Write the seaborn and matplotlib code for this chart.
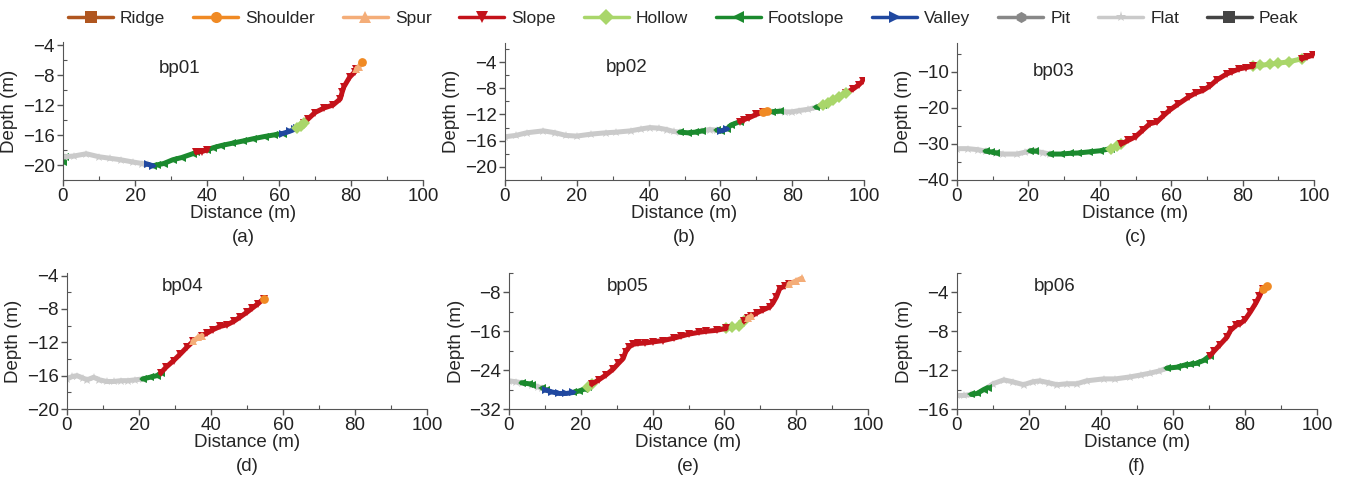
import numpy as np
import pandas as pd
import matplotlib
matplotlib.use('Agg')
import matplotlib.pyplot as plt
from matplotlib.lines import Line2D
from matplotlib.ticker import MultipleLocator
import seaborn as sns

# landform classes (legend order)
classes = ['Ridge', 'Shoulder', 'Spur', 'Slope', 'Hollow', 'Footslope', 'Valley', 'Pit', 'Flat', 'Peak']
class_colors = ['#B0561F', '#F08A24', '#F4AD78', '#C4121A', '#A9D66A', '#1B8A2E', '#2048A0', '#888888', '#CACACA', '#444444']
class_markers = ['s', 'o', '^', 'v', 'D', '<', '>', 'h', '*', 's']
codes = {'R': 'Ridge', 'Sh': 'Shoulder', 'Sp': 'Spur', 'Sl': 'Slope', 'H': 'Hollow',
         'F': 'Footslope', 'V': 'Valley', 'Pi': 'Pit', 'Fl': 'Flat', 'Pk': 'Peak'}

# bp01
bp01_dist = [0, 0.5, 3, 6.5, 10, 13, 16, 19.4, 22, 23.5, 25, 26, 28, 30.5, 33, 36, 37, 38.5, 40, 41.7, 44, 47, 50,
             52.8, 56, 58.5, 61, 63, 64.5, 65, 66, 67, 68, 70, 72.5, 75, 77, 77.6, 78, 79.6, 81, 81.5, 82.2, 83]
bp01_depth = [-19.6, -18.9, -18.8, -18.5, -18.9, -19.1, -19.3, -19.6, -19.8, -19.9, -20.1, -20.0, -19.8, -19.3, -19.0,
              -18.5, -18.3, -18.2, -18.0, -17.7, -17.4, -17.1, -16.8, -16.5, -16.2, -16.0, -15.8, -15.5, -15.2, -15.0,
              -14.8, -14.4, -13.9, -13.0, -12.4, -12.0, -11.2, -10.2, -9.6, -8.3, -7.6, -7.2, -6.9, -6.3]
bp01_class = ['F', 'Fl', 'Fl', 'Fl', 'Fl', 'Fl', 'Fl', 'Fl', 'Fl', 'V', 'F', 'F', 'F', 'F', 'F', 'F', 'Sl', 'Sl',
              'F', 'F', 'F', 'F', 'F', 'F', 'F', 'F', 'V', 'V', 'V', 'H', 'H', 'Sl', 'Sl', 'Sl', 'Sl', 'Sl', 'Sl',
              'Sl', 'Sl', 'Sl', 'Sl', 'Sp', 'Sp', 'Sh']

# bp02
bp02_dist = [0, 3, 6, 10.7, 14, 17, 20, 24, 28, 31, 35, 38, 40.4, 43, 45, 47, 48.7, 51, 53, 55, 57, 59, 60.3, 61.8,
             63, 65.4, 66.5, 68, 70, 72, 73, 74.5, 76.5, 78, 80, 82, 84.5, 86.7, 88.5, 90, 91.5, 93, 95, 97, 98.5, 99.7]
bp02_depth = [-15.4, -15.2, -14.8, -14.5, -14.8, -15.2, -15.3, -15.0, -14.8, -14.7, -14.5, -14.2, -14.0, -14.1, -14.3,
              -14.6, -14.7, -14.8, -14.7, -14.5, -14.3, -14.4, -14.5, -14.2, -13.6, -13.1, -12.8, -12.5, -12.0, -11.6,
              -11.4, -11.6, -11.5, -11.6, -11.6, -11.4, -11.2, -10.9, -10.6, -10.2, -9.8, -9.4, -8.7, -8.1, -7.5, -6.9]
bp02_class = ['Fl', 'Fl', 'Fl', 'Fl', 'Fl', 'Fl', 'Fl', 'Fl', 'Fl', 'Fl', 'Fl', 'Fl', 'Fl', 'Fl', 'Fl', 'Fl', 'F', 'F',
              'F', 'Fl', 'Fl', 'F', 'V', 'F', 'F', 'Sl', 'Sl', 'Sl', 'Sl', 'Sh', 'Fl', 'F', 'Fl', 'Fl', 'Fl', 'Fl',
              'Fl', 'F', 'H', 'H', 'H', 'H', 'Sl', 'Sl', 'Sl', 'Sl']

# bp03
bp03_dist = [0, 3, 6, 8, 9.5, 11, 13, 16.8, 19, 20.5, 21.8, 24, 26, 29, 31.7, 34, 37, 40, 43, 44.7, 46, 48, 50, 52, 54,
             56, 58, 59.6, 62, 65, 67, 69, 71, 72.7, 75.5, 77, 79, 81, 83, 85, 87.6, 90, 93, 96.5, 98, 99.7]
bp03_depth = [-31.3, -31.3, -31.6, -32.0, -32.2, -32.5, -32.8, -32.8, -32.3, -31.9, -32.0, -32.4, -32.8, -32.8, -32.6,
              -32.5, -32.2, -31.9, -31.3, -30.6, -30.0, -29.0, -28.0, -26.2, -24.4, -23.9, -22.0, -20.6, -18.9, -16.9,
              -15.8, -15.1, -13.8, -12.3, -10.6, -10.0, -9.2, -8.8, -8.4, -8.2, -7.9, -7.6, -7.2, -6.4, -5.9, -5.4]
bp03_class = ['Fl', 'Fl', 'Fl', 'F', 'F', 'Fl', 'Fl', 'Fl', 'Fl', 'F', 'Fl', 'Fl', 'F', 'F', 'F', 'F', 'F', 'F', 'H',
              'H', 'Sl', 'Sl', 'Sl', 'Sl', 'Sl', 'Sl', 'Sl', 'Sl', 'Sl', 'Sl', 'Sl', 'Sl', 'Sl', 'Sl', 'Sl', 'Sl',
              'Sl', 'Sl', 'H', 'H', 'H', 'H', 'H', 'Sl', 'Sl', 'Sl']

# bp04
bp04_dist = [0, 1.5, 2.8, 4.5, 5.6, 7.4, 9, 11, 13, 15, 17, 19, 21, 23, 25, 26, 27.5, 29.6, 31.5, 33.3, 35, 36.5, 37.5,
             38.9, 40.5, 42.6, 44.5, 46.3, 48, 50, 51.5, 53, 54.6]
bp04_depth = [-16.4, -16.1, -16.0, -16.3, -16.5, -16.2, -16.5, -16.7, -16.7, -16.6, -16.6, -16.5, -16.4, -16.2, -16.0,
              -15.7, -15.0, -14.2, -13.4, -12.6, -11.9, -11.4, -11.2, -10.9, -10.5, -10.1, -9.9, -9.5, -9.0, -8.4,
              -7.9, -7.4, -6.8]
bp04_class = ['Fl', 'Fl', 'Fl', 'Fl', 'Fl', 'Fl', 'Fl', 'Fl', 'Fl', 'Fl', 'Fl', 'Fl', 'F', 'F', 'F', 'Sl', 'Sl', 'Sl',
              'Sl', 'Sl', 'Sp', 'Sp', 'Sl', 'Sl', 'Sl', 'Sl', 'Sl', 'Sl', 'Sl', 'Sl', 'Sl', 'Sl', 'Sh']

# bp05
bp05_dist = [0, 2, 3.5, 5.5, 6.5, 8, 9.3, 10.3, 12, 14, 16, 17.8, 19.5, 21, 22, 23, 25, 27, 29, 30.5, 31.8, 32.5, 33.5,
             34.5, 36, 38, 40, 43, 46, 48, 50, 53, 55, 57.8, 60.5, 62, 64, 65.5, 66.5, 67.5, 69, 70.8, 72.6, 73.5,
             74.5, 75.4, 77, 78, 80, 81.5]
bp05_depth = [-26.2, -26.4, -26.6, -26.8, -27.0, -27.4, -27.7, -28.1, -28.5, -28.8, -28.8, -28.6, -28.3, -27.9, -27.4,
              -26.9, -26.0, -25.0, -23.8, -22.6, -21.6, -20.2, -19.2, -18.7, -18.5, -18.4, -18.2, -17.9, -17.4, -17.0,
              -16.6, -16.2, -16.0, -15.8, -15.4, -15.2, -14.9, -13.9, -13.3, -12.9, -12.2, -11.6, -11.0, -10.2, -8.9,
              -7.2, -6.6, -6.3, -5.6, -5.1]
bp05_class = ['Fl', 'Fl', 'F', 'F', 'Fl', 'Fl', 'F', 'V', 'V', 'V', 'V', 'F', 'F', 'F', 'H', 'Sl', 'Sl', 'Sl', 'Sl',
              'Sl', 'Sl', 'Sl', 'Sl', 'Sl', 'Sl', 'Sl', 'Sl', 'Sl', 'Sl', 'Sl', 'Sl', 'Sl', 'Sl', 'Sl', 'H', 'H', 'H',
              'Sl', 'Sp', 'Sl', 'Sl', 'Sl', 'Sl', 'Sl', 'Sl', 'Sl', 'Sl', 'Sp', 'Sp', 'Sp']

# bp06
bp06_dist = [0, 2, 4, 5.6, 7.4, 8.5, 10, 13, 15.5, 18.5, 21, 23, 25.5, 27.8, 30.5, 33.3, 36, 40.7, 44, 48, 51, 53.7, 56,
             58.3, 61, 63, 64.8, 66.5, 68.5, 70.3, 71.5, 73, 75, 76, 77.5, 78.7, 80, 81.5, 83, 84, 85, 86]
bp06_depth = [-14.6, -14.6, -14.5, -14.4, -14.0, -13.8, -13.4, -13.0, -13.2, -13.5, -13.2, -13.1, -13.3, -13.5, -13.4,
              -13.4, -13.1, -12.9, -12.9, -12.7, -12.5, -12.3, -12.1, -11.8, -11.7, -11.5, -11.4, -11.3, -11.0, -10.5,
              -10.0, -9.4, -8.6, -7.9, -7.4, -7.2, -6.8, -6.0, -5.1, -4.4, -3.6, -3.3]
bp06_class = ['Fl', 'Fl', 'F', 'F', 'F', 'Fl', 'Fl', 'Fl', 'Fl', 'Fl', 'Fl', 'Fl', 'Fl', 'Fl', 'Fl', 'Fl', 'Fl', 'Fl',
              'Fl', 'Fl', 'Fl', 'Fl', 'Fl', 'F', 'F', 'F', 'F', 'F', 'F', 'Sl', 'Sl', 'Sl', 'Sl', 'Sl', 'Sl', 'Sl',
              'Sl', 'Sl', 'Sl', 'Sl', 'Sh', 'Sh']

profiles = [
    ('bp01', '(a)', bp01_dist, bp01_depth, bp01_class, (-22, -3.6), [-20, -16, -12, -8, -4]),
    ('bp02', '(b)', bp02_dist, bp02_depth, bp02_class, (-22, -1.1), [-20, -16, -12, -8, -4]),
    ('bp03', '(c)', bp03_dist, bp03_depth, bp03_class, (-40, -2), [-40, -30, -20, -10]),
    ('bp04', '(d)', bp04_dist, bp04_depth, bp04_class, (-20, -3.7), [-20, -16, -12, -8, -4]),
    ('bp05', '(e)', bp05_dist, bp05_depth, bp05_class, (-32, -4), [-32, -24, -16, -8]),
    ('bp06', '(f)', bp06_dist, bp06_depth, bp06_class, (-16, -2), [-16, -12, -8, -4]),
]

# axes boxes in pixels: left, top, right, bottom ; name position in axes fraction
W, H = 1345, 483
boxes = [(63, 42, 423, 180), (505, 43, 864, 180), (957, 43, 1314, 180),
         (67, 273, 427, 409), (509, 273, 868, 409), (957, 273, 1317, 409)]
name_pos = [(0.325, 0.81), (0.34, 0.82), (0.27, 0.79), (0.32, 0.90), (0.33, 0.90), (0.27, 0.90)]

palette = dict(zip(classes, class_colors))
markers = dict(zip(classes, class_markers))


def to_frame(dist, depth, cls):
    # split a profile into runs of the same class, each run closed at the next point
    rows = []
    seg = 0
    for i in range(len(dist)):
        c = codes[cls[i]]
        if i > 0 and cls[i] != cls[i - 1]:
            rows.append((dist[i], depth[i], codes[cls[i - 1]], seg))
            seg += 1
        rows.append((dist[i], depth[i], c, seg))
    return pd.DataFrame(rows, columns=['dist', 'depth', 'cls', 'seg'])


sns.set_style('ticks')
plt.rcParams['font.family'] = ['Liberation Sans', 'DejaVu Sans']
plt.rcParams['axes.edgecolor'] = '#555555'
plt.rcParams['xtick.color'] = '#555555'
plt.rcParams['ytick.color'] = '#555555'
plt.rcParams['xtick.labelcolor'] = '#222222'
plt.rcParams['ytick.labelcolor'] = '#222222'

fig = plt.figure(figsize=(W / 100, H / 100), dpi=100)
fs = 13.5

for (name, cap, dist, depth, cls, ylim, yticks), (l, t, r, b), (nx, ny) in zip(profiles, boxes, name_pos):
    ax = fig.add_axes([l / W, 1 - b / H, (r - l) / W, (b - t) / H])
    df = to_frame(dist, depth, cls)
    sns.lineplot(data=df, x='dist', y='depth', hue='cls', style='cls', units='seg', estimator=None,
                 palette=palette, markers=markers, dashes=False, sort=False, legend=False,
                 lw=3.6, markersize=6.3, markeredgewidth=0, ax=ax)
    ax.set_xlim(0, 100)
    ax.set_ylim(*ylim)
    ax.set_xticks([0, 20, 40, 60, 80, 100])
    ax.set_yticks(yticks)
    ax.xaxis.set_minor_locator(MultipleLocator(10))
    ax.yaxis.set_minor_locator(MultipleLocator((yticks[1] - yticks[0]) / 2))
    ax.tick_params(which='major', direction='out', length=4, width=1, labelsize=fs, pad=2)
    ax.tick_params(which='minor', direction='in', length=3, width=0.8)
    sns.despine(ax=ax)
    ax.set_xlabel('Distance (m)', fontsize=fs, labelpad=0)
    ax.set_ylabel('Depth (m)', fontsize=fs, labelpad=3)
    ax.text(nx, ny, name, transform=ax.transAxes, ha='center', va='center', fontsize=fs)
    ax.text(0.5, -0.42, cap, transform=ax.transAxes, ha='center', va='center', fontsize=fs)

handles = [Line2D([], [], color=c, marker=m, lw=2.5, markersize=8, markeredgewidth=0)
           for c, m in zip(class_colors, class_markers)]
fig.legend(handles, classes, loc='upper center', bbox_to_anchor=(0.508, 1.01), ncol=10, frameon=False,
           fontsize=12.5, handlelength=2.6, handletextpad=0.4, columnspacing=1.6)

fig.savefig('out.png', dpi=100)
